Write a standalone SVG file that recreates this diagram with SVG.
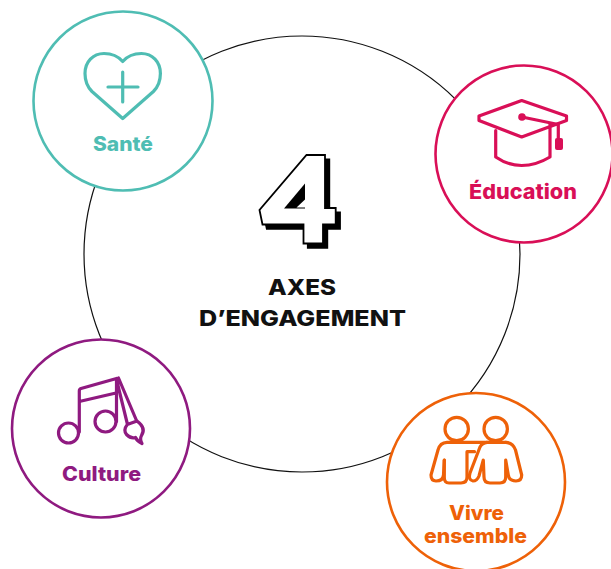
<svg xmlns="http://www.w3.org/2000/svg" width="611" height="569" viewBox="0 0 611 569">
<style>
text{font-family:"Inter","Liberation Sans",sans-serif;font-weight:800;text-anchor:middle}
.ring{fill:#fff;stroke-width:2.600}
.ic{fill:none;stroke-width:3.200;stroke-linecap:round;stroke-linejoin:round}
.sante{stroke:#4fbdb3}.edu{stroke:#d90f57}.cul{stroke:#8f1a80}.viv{stroke:#ee6108}
.ts{fill:#4fbdb3;font-size:20px}.te{fill:#d90f57;font-size:20.500px}.tc{fill:#8f1a80;font-size:20px}.tv{fill:#ee6108;font-size:20px}
.tm{fill:#111;font-size:21.500px}
</style>
<g id="connectors"><circle cx="302" cy="254" r="218" fill="none" stroke="#111" stroke-width="1.200"/></g>
<g id="center">
<path d="M306.500 155H325V208H335.700V224.500H323V243.500H303.500V224.500H262.500L259.500 210Z" transform="translate(4.300 4.300)" fill="#000" stroke="#000" stroke-width="1.800"/>
<path d="M306.500 155H325V208H335.700V224.500H323V243.500H303.500V224.500H262.500L259.500 210Z" fill="#fff" stroke="#000" stroke-width="1.800"/>
<path d="M305 183.500V208.500H284Z" fill="#000"/>
<path d="M305 199.500V207.500H296.500Z" fill="#fff"/>
<text class="tm" x="302" y="295" textLength="68" lengthAdjust="spacingAndGlyphs">AXES</text>
<text class="tm" x="302.500" y="326" textLength="207" lengthAdjust="spacingAndGlyphs">D’ENGAGEMENT</text>
</g>
<g id="sante">
<circle class="ring sante" cx="123" cy="101" r="89.500"/>
<path class="ic sante" d="M122.700 118.500L92 91.500C88 87.500 85 81 85 73.500C85 62 93 53.500 104 53.500C112 53.500 118 56 122.700 61.500C127.400 56 133.400 53.500 141.400 53.500C152.400 53.500 160.400 62 160.400 73.500C160.400 81 157.400 87.500 153.400 91.500Z"/>
<path class="ic sante" d="M108 87H138M122.700 72V102"/>
<text class="ts" x="123" y="151" textLength="60" lengthAdjust="spacingAndGlyphs">Santé</text>
</g>
<g id="education">
<circle class="ring edu" cx="524" cy="154" r="88.500"/>
<path class="ic edu" d="M521.700 100.500L566.500 116V120.500L521.700 137L479 120.500V116ZM495.700 130.500V157Q508 165.500 521.700 165.500Q536 165.500 550 157V124"/>
<path class="ic edu" d="M522 117L558.300 124.500V138"/>
<circle cx="522" cy="117" r="3.800" fill="#d90f57"/>
<rect x="555" y="138" width="8" height="12" rx="2" fill="#d90f57"/>
<text class="te" x="523" y="199" textLength="108" lengthAdjust="spacingAndGlyphs">Éducation</text>
</g>
<g id="culture">
<circle class="ring cul" cx="101" cy="428.500" r="89"/>
<circle class="ic cul" cx="68.500" cy="433" r="10"/>
<circle class="ic cul" cx="105.500" cy="421.500" r="10.500"/>
<path class="ic cul" d="M79.300 432V391Q79.300 389 81 388.500L116.500 378.500V421.500M79.300 401.500L116 393"/>
<path class="ic cul" d="M116.500 379.500L127.500 424.500M118.500 378L136.500 420.500M127.300 424.500L137 421M127.300 424.500Q123 430 126.500 434.500Q131 439 135.500 437.500Q137 441 142 443.500Q139.500 439 141.500 435.500Q146.500 428 137 421"/>
<text class="tc" x="101.500" y="481" textLength="79" lengthAdjust="spacingAndGlyphs">Culture</text>
</g>
<g id="vivre">
<circle class="ring viv" cx="476" cy="482" r="89"/>
<circle class="ic viv" cx="456.700" cy="429" r="11.700"/>
<circle class="ic viv" cx="495.700" cy="429" r="11.700"/>
<path class="ic viv" d="M444.300 460L444.300 477Q444 483 449 483H461Q467 483 467 477V451.700H474.500"/>
<path class="ic viv" d="M506 442.300H447Q440 442.500 438 450L431 475Q431 481 436 481Q443 481 443.500 475L444.300 460"/>
<path class="ic viv" d="M506 442.300Q513 443 515.500 450L521.700 475Q521.700 481 516 481Q509 481 508.300 475L505.700 460V477Q505.700 483 500 483H490Q484 483 484 477L483.300 460L479 476Q477 481 473 481Q468 480 470 473L480 447Q482 443 487 442.300"/>
<text class="tv" x="476.500" y="520" textLength="55" lengthAdjust="spacingAndGlyphs">Vivre</text>
<text class="tv" x="475.500" y="543" textLength="103" lengthAdjust="spacingAndGlyphs">ensemble</text>
</g>
</svg>
